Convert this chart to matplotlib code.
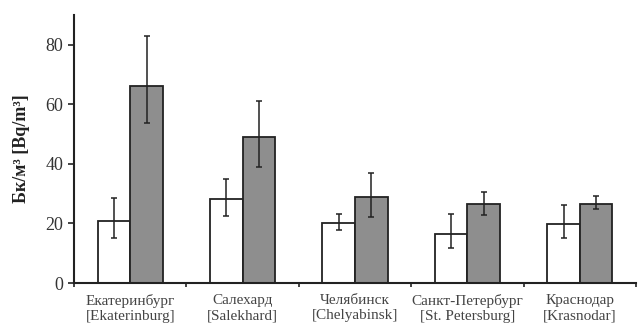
import numpy as np
import matplotlib.pyplot as plt

cities = ['Екатеринбург\n[Ekaterinburg]', 'Салехард\n[Salekhard]', 'Челябинск\n[Chelyabinsk]',
          'Санкт-Петербург\n[St. Petersburg]', 'Краснодар\n[Krasnodar]']
white = [20.8, 28.1, 20.3, 16.4, 19.8]
white_lo = [15.1, 22.5, 17.8, 11.7, 15.2]
white_hi = [28.6, 35.0, 23.1, 23.1, 26.2]
grey = [66.3, 49.0, 29.0, 26.6, 26.6]
grey_lo = [53.8, 39.1, 22.3, 22.9, 24.8]
grey_hi = [83.0, 61.2, 37.1, 30.7, 29.2]

plt.rcParams['font.family'] = ['Liberation Serif', 'DejaVu Serif']

fig = plt.figure(figsize=(6.38, 3.25), dpi=100)
ax = fig.add_axes([0.116, 0.129, 0.881, 0.825])

x = np.arange(len(cities)) + 0.5
w = 0.29
wv = np.array(white); gv = np.array(grey)
ax.bar(x - w/2, wv, w, color='white', edgecolor='#222222', linewidth=1.3,
       yerr=[wv - np.array(white_lo), np.array(white_hi) - wv],
       error_kw=dict(ecolor='#222222', elinewidth=1.1, capsize=2.5, capthick=1.1))
ax.bar(x + w/2, gv, w, color='#8e8e8e', edgecolor='#222222', linewidth=1.3,
       yerr=[gv - np.array(grey_lo), np.array(grey_hi) - gv],
       error_kw=dict(ecolor='#222222', elinewidth=1.1, capsize=2.5, capthick=1.1))

ax.set_xlim(0, 5)
ax.set_ylim(0, 90)
ax.set_yticks([0, 20, 40, 60, 80])
ax.tick_params(axis='y', labelsize=13, length=4, width=1.2, colors='#222222', labelcolor='#333333')
ax.set_xticks(np.arange(6))
ax.set_xticklabels([])
ax.tick_params(axis='x', length=3, width=1.2, colors='#222222')
ax.set_xticks(x, minor=True)
ax.set_xticklabels(cities, minor=True, fontsize=11, color='#444444', linespacing=1.2)
ax.tick_params(axis='x', which='minor', length=0, pad=8)
for s in ['top', 'right']:
    ax.spines[s].set_visible(False)
for s in ['left', 'bottom']:
    ax.spines[s].set_linewidth(1.5)
    ax.spines[s].set_color('#222222')
ax.set_ylabel('Бк/м³ [Bq/m³]', fontsize=13, fontweight='bold', color='#222222', labelpad=11)

fig.savefig('out.png', dpi=100)
